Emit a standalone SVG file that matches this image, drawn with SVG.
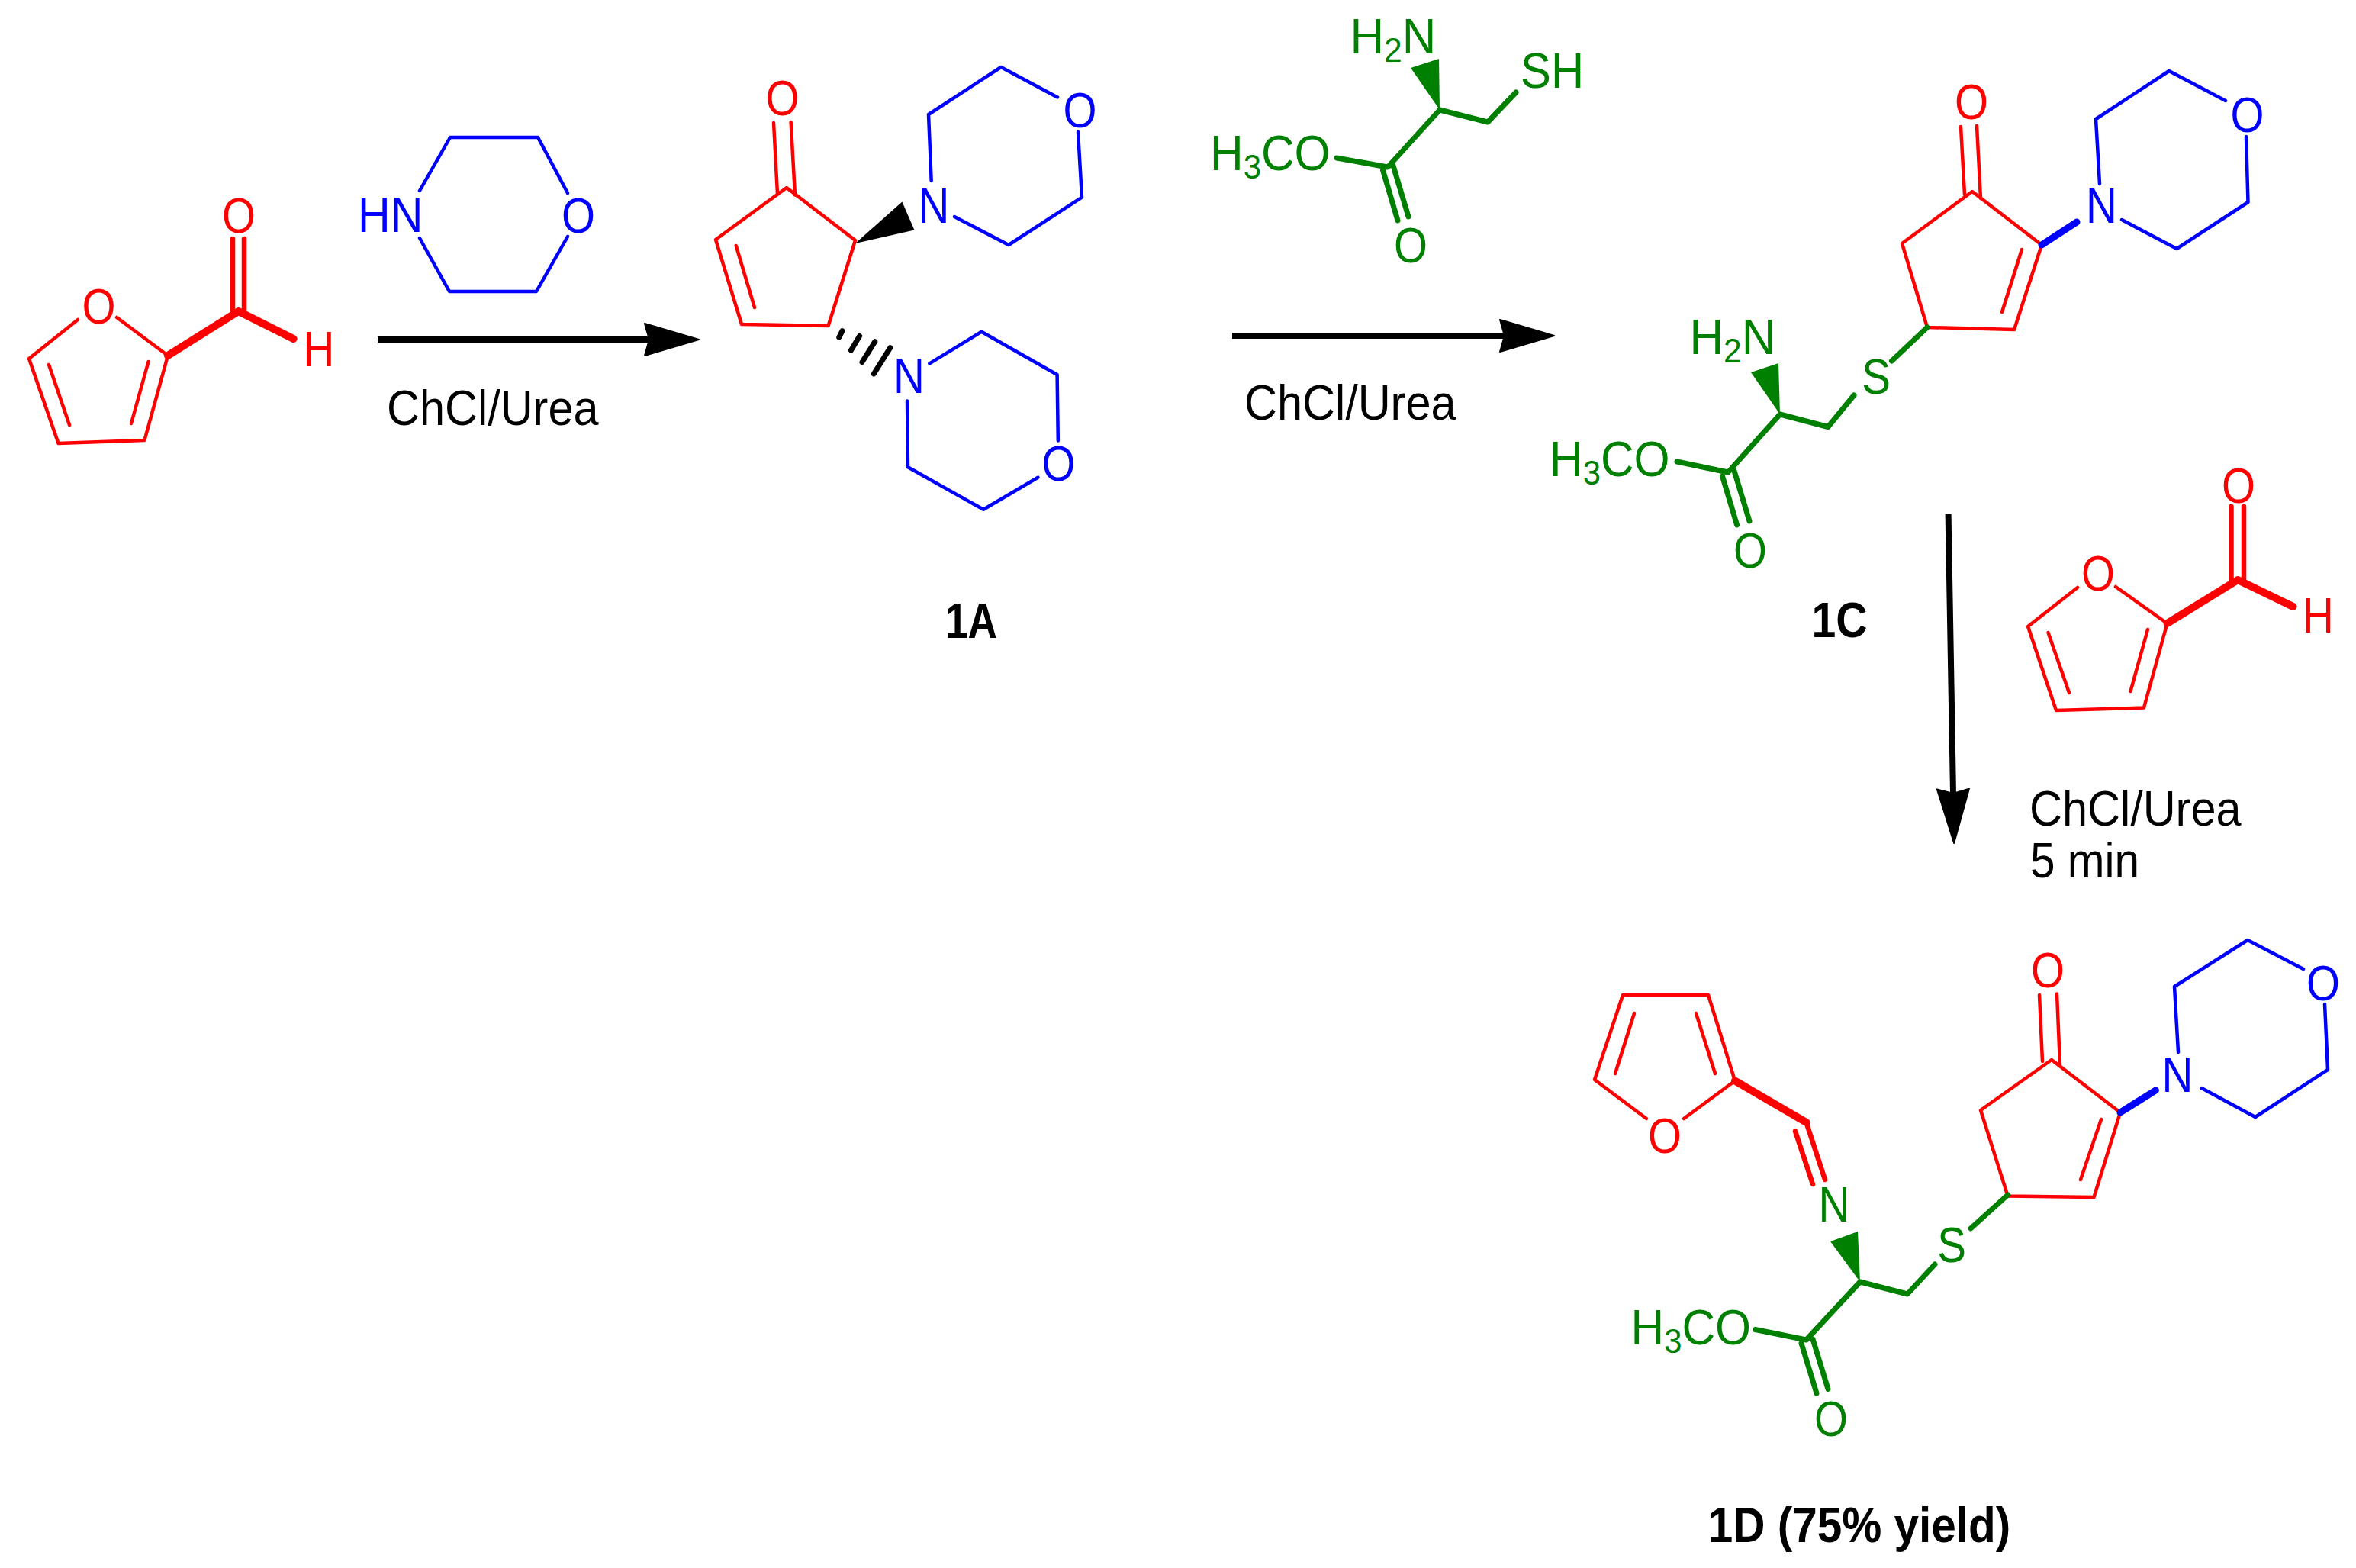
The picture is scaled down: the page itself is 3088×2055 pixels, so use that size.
<svg xmlns="http://www.w3.org/2000/svg" width="3088" height="2055" viewBox="0 0 3088 2055">
<style>
path{fill:none;stroke-linecap:round;stroke-linejoin:round}
.r{stroke:#f00;stroke-width:4.500}
.rt{stroke:#f00;stroke-width:6.500}
.rk{stroke:#f00;stroke-width:10}
.b{stroke:#00f;stroke-width:4.500}
.bk{stroke:#00f;stroke-width:9}
.g{stroke:#008000;stroke-width:7}
.gw{fill:#008000}
.k{stroke:#000;stroke-width:7}
text{font-family:"Liberation Sans",Arial,sans-serif;font-size:65px}
.tr{fill:#f00;text-anchor:middle}
.tb{fill:#00f;text-anchor:middle}
.tbs{fill:#00f}
.tg{fill:#008000}
.tgm{fill:#008000;text-anchor:middle}
.tk{fill:#000}
.bold{fill:#000;font-weight:bold;text-anchor:middle}
.sub{font-size:45px}
.arrow{stroke:#000;stroke-width:8;stroke-linecap:butt}
</style>
<defs>
<marker id="head" markerUnits="userSpaceOnUse" markerWidth="76" markerHeight="48" viewBox="-1 -24 76 48" refX="6" refY="0" orient="auto">
<path d="M0,-21 L71,0 L0,21 L6,0Z" style="fill:#000;stroke:#000;stroke-width:2"/>
</marker>
</defs>

<g id="connectors">
<path class="arrow" d="M495,445H851" marker-end="url(#head)"/>
<path class="arrow" d="M1615,440H1972" marker-end="url(#head)"/>
<path class="arrow" d="M2553.600,674L2560,1040" marker-end="url(#head)"/>
</g>

<g id="furfural-1">
<path class="r" d="M102,419L38,470L76.500,581L189.400,577L220,466L153,416M64,478L91,557M194.500,474L172,555"/>
<path class="rk" d="M220,466L312.500,408L384.600,444"/>
<path class="rt" d="M305,313V408M320,313V408"/>
<text class="tr" transform="matrix(.87 0 0 1 129.500 424)">O</text>
<text class="tr" transform="matrix(.87 0 0 1 313 305)">O</text>
<text class="tr" transform="matrix(.87 0 0 1 418 480)">H</text>
</g>

<g id="morpholine">
<path class="b" d="M550,250L590,180H705L744,253M744,310L703,382H589L550,312"/>
<text class="tbs" transform="matrix(.91 0 0 1 469 304)">HN</text>
<text class="tb" transform="matrix(.87 0 0 1 758 305)">O</text>
</g>

<g id="label-a">
<text class="tk" transform="matrix(.915 0 0 1 507 557)">ChCl/Urea</text>
</g>

<g id="compound-1A">
<path class="r" d="M1031,246L1121,315L1085.600,427L972,425L938,314Z M964.700,322L989,403"/>
<path class="r" d="M1014,161L1019,254M1036.600,160L1042,255.600"/>
<polygon points="1121,319 1182.400,264.400 1198.500,301.500" fill="#000"/>
<path class="k" d="M1104,433.600L1099.800,442M1126.600,440.500L1115.500,459M1146.800,447.700L1130,474.500M1166.700,455.800L1145.300,490"/>
<path class="b" d="M1220.700,237L1217,150L1312,88L1386,127.400M1413,173L1418,258.700L1322,321L1251,284"/>
<path class="b" d="M1218.400,476.400L1286.500,434.700L1385.600,491L1386.800,577.500M1360.400,625.700L1289,667.800L1190,612.300L1189,525.400"/>
<text class="tr" transform="matrix(.87 0 0 1 1025.500 150.500)">O</text>
<text class="tb" transform="matrix(.87 0 0 1 1224 292)">N</text>
<text class="tb" transform="matrix(.87 0 0 1 1415.500 167)">O</text>
<text class="tb" transform="matrix(.87 0 0 1 1191.500 515)">N</text>
<text class="tb" transform="matrix(.87 0 0 1 1387.600 630)">O</text>
<text class="bold" transform="matrix(.82 0 0 1 1273 835.700)">1A</text>
</g>

<g id="cysteine-ester">
<polygon class="gw" points="1887,144 1849,89 1886,77"/>
<path class="g" d="M1987,121L1950,160L1887,144L1819,219L1752,207M1812.500,223L1832,289M1826,217L1846,284"/>
<text class="tg" transform="matrix(.95 0 0 1 1769.500 70)">H<tspan class="sub" dy="11">2</tspan><tspan dy="-11">N</tspan></text>
<text class="tg" transform="matrix(.92 0 0 1 1993 115)">SH</text>
<text class="tg" transform="matrix(.93 0 0 1 1586 223)">H<tspan class="sub" dy="11">3</tspan><tspan dy="-11">CO</tspan></text>
<text class="tgm" transform="matrix(.87 0 0 1 1849 344)">O</text>
</g>

<g id="label-b">
<text class="tk" transform="matrix(.915 0 0 1 1631 550)">ChCl/Urea</text>
</g>

<g id="compound-1C">
<path class="r" d="M2585,251L2676,321L2640,432L2526,429L2493,319Z M2650,327L2624,409"/>
<path class="r" d="M2570,166L2575,255M2591,165L2596,260"/>
<path class="bk" d="M2676,321L2722,291"/>
<path class="b" d="M2752,241L2747,156L2843,93L2917,132M2944,179L2946.500,265L2853,326L2781,288"/>
<polygon class="gw" points="2333,543 2295,488 2331,476"/>
<path class="g" d="M2526,429L2479.500,473M2430,518L2396,559.500L2333,543L2265,619L2198,605M2257.500,624L2276.600,688M2273,617L2293,683"/>
<text class="tr" transform="matrix(.87 0 0 1 2584 156)">O</text>
<text class="tb" transform="matrix(.87 0 0 1 2754.500 292)">N</text>
<text class="tb" transform="matrix(.87 0 0 1 2945.500 173)">O</text>
<text class="tgm" transform="matrix(.87 0 0 1 2459 516)">S</text>
<text class="tg" transform="matrix(.95 0 0 1 2214.500 463.500)">H<tspan class="sub" dy="11">2</tspan><tspan dy="-11">N</tspan></text>
<text class="tg" transform="matrix(.93 0 0 1 2031 624)">H<tspan class="sub" dy="11">3</tspan><tspan dy="-11">CO</tspan></text>
<text class="tgm" transform="matrix(.87 0 0 1 2294 744)">O</text>
<text class="bold" transform="matrix(.88 0 0 1 2411 835)">1C</text>
</g>

<g id="furfural-2">
<path class="r" d="M2723,770L2658,821L2695,931L2810,927.500L2840.500,817L2773,769M2684.500,829L2712,908M2815,825L2792.500,906"/>
<path class="rk" d="M2840.500,817L2933,760L3005.500,795"/>
<path class="rt" d="M2924.500,664V760M2941,664V760"/>
<text class="tr" transform="matrix(.87 0 0 1 2750 774)">O</text>
<text class="tr" transform="matrix(.87 0 0 1 2934 659)">O</text>
<text class="tr" transform="matrix(.87 0 0 1 3038.500 829)">H</text>
</g>

<g id="label-c">
<text class="tk" transform="matrix(.915 0 0 1 2660 1082)">ChCl/Urea</text>
<text class="tk" transform="matrix(.9 0 0 1 2661 1150)">5 min</text>
</g>

<g id="compound-1D">
<path class="r" d="M2158,1466L2090,1415L2127,1304H2239L2274,1416.500L2207,1466M2142,1328L2117,1407M2223,1328L2248,1407"/>
<path class="rk" d="M2274,1416.500L2367.500,1471"/>
<path class="rt" d="M2367.500,1471L2392,1546M2353,1482.500L2376,1552"/>
<path class="r" d="M2689,1389L2779,1458L2744.500,1569L2631.600,1567.500L2596,1455Z M2754,1467L2727,1546"/>
<path class="r" d="M2673,1304L2677,1391M2696,1302.500L2700,1396"/>
<path class="bk" d="M2779,1458L2825.400,1429"/>
<path class="b" d="M2855,1379L2850,1293L2946,1232L3019,1270M3047,1316L3051,1402L2956,1464L2885.600,1426"/>
<polygon class="gw" points="2438,1680 2399,1627 2435,1614"/>
<path class="g" d="M2631.600,1566L2583,1610M2536,1657L2500,1696L2438,1680L2367.500,1756L2300.700,1742.500M2361,1760.500L2381,1826M2376,1755L2396,1820.500"/>
<text class="tr" transform="matrix(.87 0 0 1 2182 1511)">O</text>
<text class="tgm" transform="matrix(.87 0 0 1 2404 1601)">N</text>
<text class="tgm" transform="matrix(.87 0 0 1 2558 1654)">S</text>
<text class="tr" transform="matrix(.87 0 0 1 2684 1294)">O</text>
<text class="tb" transform="matrix(.87 0 0 1 2854 1431)">N</text>
<text class="tb" transform="matrix(.87 0 0 1 3045 1311)">O</text>
<text class="tg" transform="matrix(.93 0 0 1 2137.500 1762)">H<tspan class="sub" dy="11">3</tspan><tspan dy="-11">CO</tspan></text>
<text class="tgm" transform="matrix(.87 0 0 1 2400 1882)">O</text>
<text class="bold" transform="matrix(.9 0 0 1 2437 2021)">1D (75% yield)</text>
</g>
</svg>
